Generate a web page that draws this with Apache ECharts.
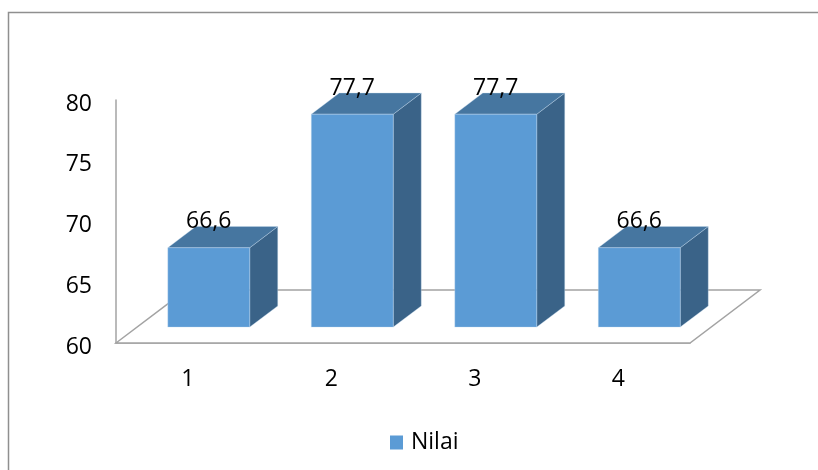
<!DOCTYPE html>
<html>
<head>
<meta charset="utf-8">
<script src="https://cdn.jsdelivr.net/npm/echarts@6/dist/echarts.min.js"></script>
<style>html,body{margin:0;padding:0;background:#fff;}#c{width:818px;height:470px;}</style>
</head>
<body>
<div id="c"></div>
<script>
const categories = ['1', '2', '3', '4'];
const values = [66.6, 77.7, 77.7, 66.6];
const yTicks = [60, 65, 70, 75, 80];
const seriesName = 'Nilai';

const yMin = yTicks[0], yMax = yTicks[yTicks.length - 1];
const FONT = '"Open Sans", "Noto Sans", sans-serif';
const FRONT = '#5b9bd5', TOP = '#4676a0', SIDE = '#3a6388';
const AXIS_GRAY = '#a3a3a3';

function depth(band) { return [band * 0.488, -band * 0.369]; }

function renderFloor(params, api) {
  const n = categories.length;
  const band = api.size([1, 0])[0];
  const c0 = api.coord([0, yMin]);
  const cN = api.coord([n - 1, yMin]);
  const left = c0[0] - band / 2, right = cN[0] + band / 2, y0 = c0[1];
  const D = depth(band);
  return {
    type: 'polygon',
    shape: { points: [[left, y0], [left + D[0], y0 + D[1]], [right + D[0], y0 + D[1]], [right, y0]] },
    style: { fill: '#ffffff', stroke: AXIS_GRAY, lineWidth: 1.5 },
    z2: 0
  };
}

function renderBar(params, api) {
  const i = api.value(0), v = api.value(1);
  const base = api.coord([i, yMin]);
  const top = api.coord([i, v]);
  const band = api.size([1, 0])[0];
  const D = depth(band);
  const w = band * 0.571;
  const cx = base[0] + 0.3 * D[0];
  const x0 = cx - w / 2, x1 = cx + w / 2;
  const yb = base[1] + 0.3 * D[1];
  const h = (base[1] - top[1]) * 0.99;
  const yt = yb - h;
  const dx = 0.4 * D[0], dy = 0.4 * D[1];
  const edge = 'rgba(200,220,240,0.45)';
  return {
    type: 'group',
    children: [
      { type: 'polygon', shape: { points: [[x1, yt], [x1 + dx, yt + dy], [x1 + dx, yb + dy], [x1, yb]] },
        style: { fill: SIDE, stroke: edge, lineWidth: 0.8 } },
      { type: 'polygon', shape: { points: [[x0, yt], [x1, yt], [x1 + dx, yt + dy], [x0 + dx, yt + dy]] },
        style: { fill: TOP, stroke: edge, lineWidth: 0.8 } },
      { type: 'rect', shape: { x: x0, y: yt, width: w, height: h },
        style: { fill: FRONT, stroke: edge, lineWidth: 0.8 } },
      { type: 'text', x: cx, y: yt - 26, z2: 10,
        style: { text: String(v).replace('.', ','), fill: '#000', fontSize: 23, fontFamily: FONT,
                 align: 'center', verticalAlign: 'middle' } }
    ]
  };
}

const chart = echarts.init(document.getElementById('c'), null, { renderer: 'canvas' });
chart.setOption({
  animation: false,
  backgroundColor: '#ffffff',
  graphic: [{
    type: 'rect', shape: { x: 8.5, y: 12.5, width: 900, height: 600 },
    style: { fill: 'none', stroke: '#8f8f8f', lineWidth: 1.5 }, z: -10
  }],
  grid: { left: 116, right: 128, top: 100, bottom: 127, containLabel: false },
  legend: {
    data: [{ name: seriesName, icon: 'rect', itemStyle: { color: FRONT } }],
    left: 385, top: 426, itemWidth: 13, itemHeight: 14, itemGap: 10,
    textStyle: { fontSize: 23, fontFamily: FONT, color: '#000', padding: [0, 0, 0, 3] }
  },
  xAxis: {
    type: 'category', data: categories,
    axisLine: { show: true, lineStyle: { color: AXIS_GRAY, width: 1.5 } },
    axisTick: { show: false },
    axisLabel: { margin: 25, fontSize: 23, fontFamily: FONT, color: '#000' },
    splitLine: { show: false }
  },
  yAxis: {
    type: 'value', min: yMin, max: yMax, interval: 5,
    axisLine: { show: true, lineStyle: { color: AXIS_GRAY, width: 1.5 } },
    axisTick: { show: false },
    axisLabel: {
      margin: 24, color: '#000',
      formatter: '{v|{value}}',
      rich: { v: { fontSize: 23, fontFamily: FONT, color: '#000', padding: [8, 0, 0, 0] } }
    },
    splitLine: { show: false }
  },
  series: [
    { type: 'custom', name: 'floor', renderItem: renderFloor, data: [[0, yMin]],
      encode: { x: 0, y: 1 }, z: 1, silent: true, clip: false },
    { type: 'custom', name: seriesName, renderItem: renderBar,
      data: values.map((v, i) => [i, v]), encode: { x: 0, y: 1 }, z: 2, clip: false,
      itemStyle: { color: FRONT } }
  ]
});
</script>
</body>
</html>
